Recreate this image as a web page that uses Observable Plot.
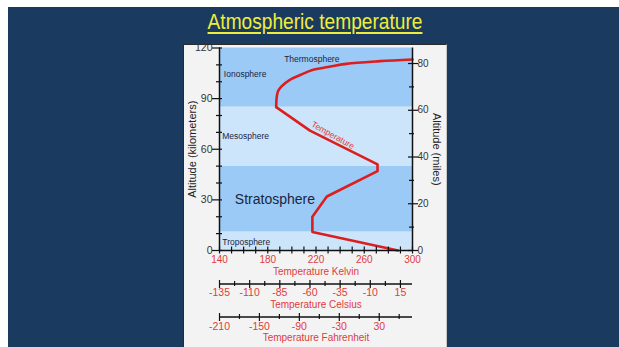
<!DOCTYPE html>
<html>
<head>
<meta charset="utf-8">
<script src="https://cdn.jsdelivr.net/npm/d3@7"></script>
<script src="https://cdn.jsdelivr.net/npm/@observablehq/plot@0.6"></script>
<style>
  html, body { margin: 0; padding: 0; background: #ffffff; }
  #page { position: relative; width: 619px; height: 347px; overflow: hidden; background: #ffffff;
          font-family: "Liberation Sans", Arial, sans-serif; }
  #bg { position: absolute; left: 8px; top: 7px; width: 611px; height: 340px; background: #1b3a5f; }
  #title { position: absolute; left: 315px; top: 10.5px; white-space: nowrap;
           transform: translateX(-50%) scaleX(0.87); transform-origin: center;
           font-size: 22px; line-height: 22px; color: #eeee3a;
           text-decoration: underline; text-decoration-thickness: 2px; text-underline-offset: 3px; }
  #panel { position: absolute; left: 183px; top: 44px; width: 264px; height: 303px; box-sizing: border-box;
           background: #f3f3f3; border-left: 1px solid #2a2a2a; border-top: 1px solid #2a2a2a; border-right: 1px solid #c8c8c8; }
  .chart { position: absolute; left: 183px; }
</style>
</head>
<body>
<div id="page">
  <div id="bg"></div>
  <div id="title">Atmospheric temperature</div>
  <div id="panel"></div>
  <div id="main" class="chart" style="top:36px"></div>
  <div id="cel" class="chart" style="top:276px"></div>
  <div id="fah" class="chart" style="top:309px"></div>
</div>
<script>
// ---------- data ----------
const altitudeKm   = [0,   11,  20,  32,  47,  51,  71,  85,  90,    94,    97,  101, 104, 107, 108.7, 110.6, 112.2, 113.2];
const temperatureK = [288, 217, 217, 229, 271, 271, 215, 187, 187.3, 188.3, 191, 198, 207, 217, 230,   245,   273,   300];
const curveSplitIndex = 7; // above 85 km the drawn curve is smooth

const bandBottomKm = [0, 11, 50, 85];
const bandTopKm    = [11, 50, 85, 120];
const bandShade    = ["light", "medium", "light", "medium"];

const layerNames = ["Thermosphere", "Ionosphere", "Mesosphere", "Stratosphere", "Troposphere"];
const layerK     = [216.5, 143.6, 142.3, 152.7, 142.3];
const layerKm    = [113.6, 104.3, 67.7, 30.2, 4.9];
const layerSize  = [8.5, 8.5, 8.5, 14, 8.5];

const curveLabel = [{text: "Temperature", k: 234, km: 68.3}];

const kelvinTicks = [140, 180, 220, 260, 300];
const kelvinMinor = [140, 150, 160, 170, 180, 190, 200, 210, 220, 230, 240, 250, 260, 270, 280, 290, 300];
const kmTicks = [0, 30, 60, 90, 120];
const kmMinor = [10, 20, 40, 50, 70, 80, 100, 110];
const mileTicks = [0, 20, 40, 60, 80];
const mileMinor = [10, 30, 50, 70];
const kmPerDrawnMile = 1.385; // the miles axis as drawn in the reference
const celsiusTicks = [-135, -110, -85, -60, -35, -10, 15];
const celsiusMinor = [-122.5, -97.5, -72.5, -47.5, -22.5, 2.5];
const fahrenheitTicks = [-210, -150, -90, -30, 30];
const fahrenheitMinor = [-180, -120, -60, 0, 60];

// ---------- styles ----------
const FONT = '"Liberation Sans", Arial, sans-serif';
const RED = "#dc1e1e";
const RED_LABEL = "#e03c3c";
const INK = "#1a2540";

const profile = altitudeKm.map((km, i) => ({km, k: temperatureK[i]}));
const lower = profile.slice(0, curveSplitIndex + 1);
const upper = profile.slice(curveSplitIndex);
const bands = bandBottomKm.map((b, i) => ({bottom: b, top: bandTopKm[i], shade: bandShade[i]}));
const layers = layerNames.map((n, i) => ({name: n, k: layerK[i], km: layerKm[i], size: layerSize[i]}));
const toKm = mi => mi * kmPerDrawnMile;

const baseStyle = {fontFamily: FONT, fontSize: "10px", background: "transparent", overflow: "visible", color: "#111"};

const main = Plot.plot({
  width: 264, height: 244,
  marginTop: 11.5, marginBottom: 30, marginLeft: 36, marginRight: 35,
  style: baseStyle,
  x: {domain: [140, 300]},
  y: {domain: [0, 120]},
  color: {domain: ["light", "medium"], range: ["#cde5fb", "#9ccaf6"]},
  marks: [
    Plot.rect(bands, {y1: "bottom", y2: "top", fill: "shade"}),
    Plot.line(lower, {x: "k", y: "km", stroke: RED, strokeWidth: 2.6, curve: "linear"}),
    Plot.line(upper, {x: "k", y: "km", stroke: RED, strokeWidth: 2.6, curve: "catmull-rom"}),
    Plot.text(layers.filter(d => d.name === "Thermosphere"), {x: "k", y: "km", text: "name", fontSize: "size", fill: INK, textAnchor: "middle"}),
    Plot.text(layers.filter(d => d.name !== "Thermosphere"), {x: "k", y: "km", text: "name", fontSize: "size", fill: INK, textAnchor: "start"}),
    Plot.text(curveLabel, {x: "k", y: "km", text: "text", rotate: 29, fill: RED_LABEL, fontSize: 8.5}),
    Plot.ruleX([140, 300], {stroke: "#111", strokeWidth: 1.5}),
    Plot.ruleY([0], {stroke: "#111", strokeWidth: 1.5}),
    // Kelvin axis
    Plot.axisX(kelvinMinor, {anchor: "bottom", tickSize: 7, dy: -3.5, fill: "none", stroke: "#111", strokeWidth: 1.2}),
    Plot.axisX(kelvinTicks, {anchor: "bottom", tickSize: 0, tickPadding: 5.5, fill: RED_LABEL, fontSize: 10, label: null, tickFormat: d => String(d)}),
    // km axis
    Plot.axisY(kmMinor, {anchor: "left", tickSize: 6, dx: 3, fill: "none", stroke: "#111", strokeWidth: 1.2}),
    Plot.axisY(kmTicks, {anchor: "left", tickSize: 10, dx: 3, fill: "none", stroke: "#111", strokeWidth: 1.2}),
    Plot.axisY(kmTicks, {anchor: "left", tickSize: 0, tickPadding: 7, fill: "#333", fontSize: 10.5, label: null, tickFormat: d => String(d)}),
    // miles axis
    Plot.axisY(mileMinor.map(toKm), {anchor: "right", tickSize: 5, dx: -4, fill: "none", stroke: "#111", strokeWidth: 1.2}),
    Plot.axisY(mileTicks.map(toKm), {anchor: "right", tickSize: 10, dx: -5, fill: "none", stroke: "#111", strokeWidth: 1.2}),
    Plot.axisY(mileTicks.map(toKm), {anchor: "right", tickSize: 0, tickPadding: 5, fill: "#333", fontSize: 10, label: null, tickFormat: d => String(Math.round(d / kmPerDrawnMile))}),
    // titles
    Plot.text(["Altitude (kilometers)"], {frameAnchor: "left", textAnchor: "middle", lineAnchor: "middle", rotate: -90, dx: -27, fontSize: 11, fill: "#222"}),
    Plot.text(["Altitude (miles)"], {frameAnchor: "right", textAnchor: "middle", lineAnchor: "middle", rotate: 90, dx: 24, fontSize: 11, fill: "#222"}),
    Plot.text(["Temperature Kelvin"], {frameAnchor: "bottom", textAnchor: "middle", lineAnchor: "middle", dy: 21, fontSize: 10, fill: RED_LABEL})
  ]
});
document.getElementById("main").append(main);

function scaleAxis(domain, ticks, minor, title, top, bottom, pad, titleDy) {
  return Plot.plot({
    width: 264, height: top + bottom,
    marginTop: top, marginBottom: bottom, marginLeft: 36, marginRight: 35,
    style: baseStyle,
    x: {domain},
    y: {domain: [0, 1], axis: null},
    marks: [
      Plot.ruleY([0], {stroke: "#111", strokeWidth: 1.5}),
      Plot.axisX(minor, {anchor: "bottom", tickSize: 5, dy: -2.5, fill: "none", stroke: "#111", strokeWidth: 1.2}),
      Plot.axisX(ticks, {anchor: "bottom", tickSize: 8, dy: -3.5, fill: "none", stroke: "#111", strokeWidth: 1.2}),
      Plot.axisX(ticks, {anchor: "bottom", tickSize: 0, tickPadding: pad, fill: RED_LABEL, fontSize: 10.5, label: null, tickFormat: d => String(d)}),
      Plot.text([title], {frameAnchor: "bottom", textAnchor: "middle", lineAnchor: "middle", dy: titleDy, fontSize: 10, fill: RED_LABEL})
    ]
  });
}
document.getElementById("cel").append(scaleAxis([-135, 25], celsiusTicks, celsiusMinor, "Temperature Celsius", 7.5, 28.5, 5, 20.5));
document.getElementById("fah").append(scaleAxis([-210, 80], fahrenheitTicks, fahrenheitMinor, "Temperature Fahrenheit", 7.5, 30.5, 5.5, 21));
</script>
</body>
</html>
